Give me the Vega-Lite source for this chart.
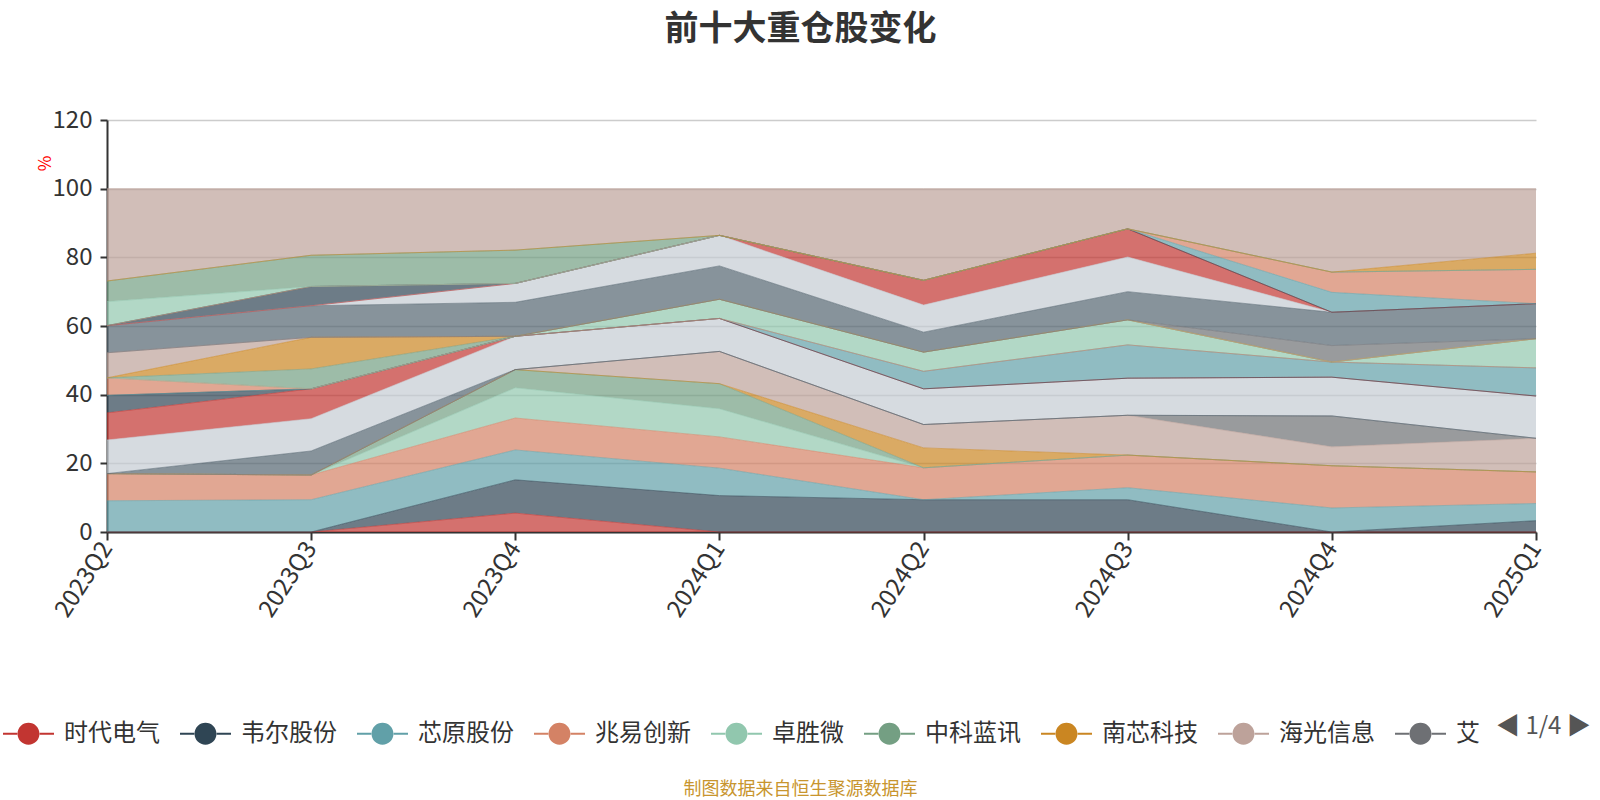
{
  "$schema": "https://vega.github.io/schema/vega-lite/v6.json",
  "autosize": {"type": "none"},
  "width": 1429,
  "height": 412,
  "padding": {"left": 107, "top": 120, "right": 64, "bottom": 268},
  "background": "#ffffff",
  "title": {"text": "前十大重仓股变化", "fontSize": 34, "fontWeight": "bold", "color": "#333333", "anchor": "middle", "dx": -21, "offset": 44, "baseline": "middle"},
  "data": {"values": [
    {"q":"2023Q2","s":"时代电气","i":0,"v":0},{"q":"2023Q3","s":"时代电气","i":0,"v":0},{"q":"2023Q4","s":"时代电气","i":0,"v":5.5},{"q":"2024Q1","s":"时代电气","i":0,"v":0},{"q":"2024Q2","s":"时代电气","i":0,"v":0},{"q":"2024Q3","s":"时代电气","i":0,"v":0},{"q":"2024Q4","s":"时代电气","i":0,"v":0},{"q":"2025Q1","s":"时代电气","i":0,"v":0},
    {"q":"2023Q2","s":"韦尔股份","i":1,"v":0},{"q":"2023Q3","s":"韦尔股份","i":1,"v":0},{"q":"2023Q4","s":"韦尔股份","i":1,"v":9.7},{"q":"2024Q1","s":"韦尔股份","i":1,"v":10.6},{"q":"2024Q2","s":"韦尔股份","i":1,"v":9.4},{"q":"2024Q3","s":"韦尔股份","i":1,"v":9.4},{"q":"2024Q4","s":"韦尔股份","i":1,"v":0},{"q":"2025Q1","s":"韦尔股份","i":1,"v":3.3},
    {"q":"2023Q2","s":"芯原股份","i":2,"v":9.1},{"q":"2023Q3","s":"芯原股份","i":2,"v":9.4},{"q":"2023Q4","s":"芯原股份","i":2,"v":8.7},{"q":"2024Q1","s":"芯原股份","i":2,"v":8.0},{"q":"2024Q2","s":"芯原股份","i":2,"v":0},{"q":"2024Q3","s":"芯原股份","i":2,"v":3.5},{"q":"2024Q4","s":"芯原股份","i":2,"v":7.0},{"q":"2025Q1","s":"芯原股份","i":2,"v":5.0},
    {"q":"2023Q2","s":"兆易创新","i":3,"v":7.9},{"q":"2023Q3","s":"兆易创新","i":3,"v":7.2},{"q":"2023Q4","s":"兆易创新","i":3,"v":9.3},{"q":"2024Q1","s":"兆易创新","i":3,"v":9.1},{"q":"2024Q2","s":"兆易创新","i":3,"v":9.3},{"q":"2024Q3","s":"兆易创新","i":3,"v":9.5},{"q":"2024Q4","s":"兆易创新","i":3,"v":12.3},{"q":"2025Q1","s":"兆易创新","i":3,"v":9.2},
    {"q":"2023Q2","s":"卓胜微","i":4,"v":0},{"q":"2023Q3","s":"卓胜微","i":4,"v":0},{"q":"2023Q4","s":"卓胜微","i":4,"v":8.8},{"q":"2024Q1","s":"卓胜微","i":4,"v":8.2},{"q":"2024Q2","s":"卓胜微","i":4,"v":0},{"q":"2024Q3","s":"卓胜微","i":4,"v":0},{"q":"2024Q4","s":"卓胜微","i":4,"v":0},{"q":"2025Q1","s":"卓胜微","i":4,"v":0},
    {"q":"2023Q2","s":"中科蓝讯","i":5,"v":0},{"q":"2023Q3","s":"中科蓝讯","i":5,"v":0},{"q":"2023Q4","s":"中科蓝讯","i":5,"v":5.3},{"q":"2024Q1","s":"中科蓝讯","i":5,"v":7.3},{"q":"2024Q2","s":"中科蓝讯","i":5,"v":0},{"q":"2024Q3","s":"中科蓝讯","i":5,"v":0},{"q":"2024Q4","s":"中科蓝讯","i":5,"v":0},{"q":"2025Q1","s":"中科蓝讯","i":5,"v":0},
    {"q":"2023Q2","s":"南芯科技","i":6,"v":0},{"q":"2023Q3","s":"南芯科技","i":6,"v":0},{"q":"2023Q4","s":"南芯科技","i":6,"v":0},{"q":"2024Q1","s":"南芯科技","i":6,"v":0},{"q":"2024Q2","s":"南芯科技","i":6,"v":5.8},{"q":"2024Q3","s":"南芯科技","i":6,"v":0},{"q":"2024Q4","s":"南芯科技","i":6,"v":0},{"q":"2025Q1","s":"南芯科技","i":6,"v":0},
    {"q":"2023Q2","s":"海光信息","i":7,"v":0},{"q":"2023Q3","s":"海光信息","i":7,"v":0},{"q":"2023Q4","s":"海光信息","i":7,"v":0},{"q":"2024Q1","s":"海光信息","i":7,"v":9.4},{"q":"2024Q2","s":"海光信息","i":7,"v":6.8},{"q":"2024Q3","s":"海光信息","i":7,"v":11.6},{"q":"2024Q4","s":"海光信息","i":7,"v":5.5},{"q":"2025Q1","s":"海光信息","i":7,"v":9.8},
    {"q":"2023Q2","s":"艾为电子","i":8,"v":0},{"q":"2023Q3","s":"艾为电子","i":8,"v":0},{"q":"2023Q4","s":"艾为电子","i":8,"v":0},{"q":"2024Q1","s":"艾为电子","i":8,"v":0},{"q":"2024Q2","s":"艾为电子","i":8,"v":0},{"q":"2024Q3","s":"艾为电子","i":8,"v":0},{"q":"2024Q4","s":"艾为电子","i":8,"v":9.0},{"q":"2025Q1","s":"艾为电子","i":8,"v":0},
    {"q":"2023Q2","s":"澜起科技","i":9,"v":0},{"q":"2023Q3","s":"澜起科技","i":9,"v":7.0},{"q":"2023Q4","s":"澜起科技","i":9,"v":0},{"q":"2024Q1","s":"澜起科技","i":9,"v":0},{"q":"2024Q2","s":"澜起科技","i":9,"v":0},{"q":"2024Q3","s":"澜起科技","i":9,"v":0},{"q":"2024Q4","s":"澜起科技","i":9,"v":0},{"q":"2025Q1","s":"澜起科技","i":9,"v":0},
    {"q":"2023Q2","s":"北方华创","i":10,"v":9.8},{"q":"2023Q3","s":"北方华创","i":10,"v":9.4},{"q":"2023Q4","s":"北方华创","i":10,"v":9.7},{"q":"2024Q1","s":"北方华创","i":10,"v":9.6},{"q":"2024Q2","s":"北方华创","i":10,"v":10.4},{"q":"2024Q3","s":"北方华创","i":10,"v":10.8},{"q":"2024Q4","s":"北方华创","i":10,"v":11.3},{"q":"2025Q1","s":"北方华创","i":10,"v":12.3},
    {"q":"2023Q2","s":"中芯国际","i":11,"v":7.9},{"q":"2023Q3","s":"中芯国际","i":11,"v":8.7},{"q":"2023Q4","s":"中芯国际","i":11,"v":0},{"q":"2024Q1","s":"中芯国际","i":11,"v":0},{"q":"2024Q2","s":"中芯国际","i":11,"v":0},{"q":"2024Q3","s":"中芯国际","i":11,"v":0},{"q":"2024Q4","s":"中芯国际","i":11,"v":0},{"q":"2025Q1","s":"中芯国际","i":11,"v":0},
    {"q":"2023Q2","s":"圣邦股份","i":12,"v":5.1},{"q":"2023Q3","s":"圣邦股份","i":12,"v":0},{"q":"2023Q4","s":"圣邦股份","i":12,"v":0},{"q":"2024Q1","s":"圣邦股份","i":12,"v":0},{"q":"2024Q2","s":"圣邦股份","i":12,"v":0},{"q":"2024Q3","s":"圣邦股份","i":12,"v":0},{"q":"2024Q4","s":"圣邦股份","i":12,"v":0},{"q":"2025Q1","s":"圣邦股份","i":12,"v":0},
    {"q":"2023Q2","s":"寒武纪","i":13,"v":0},{"q":"2023Q3","s":"寒武纪","i":13,"v":0},{"q":"2023Q4","s":"寒武纪","i":13,"v":0},{"q":"2024Q1","s":"寒武纪","i":13,"v":0},{"q":"2024Q2","s":"寒武纪","i":13,"v":5.1},{"q":"2024Q3","s":"寒武纪","i":13,"v":9.7},{"q":"2024Q4","s":"寒武纪","i":13,"v":4.4},{"q":"2025Q1","s":"寒武纪","i":13,"v":8.2},
    {"q":"2023Q2","s":"晶晨股份","i":14,"v":5.1},{"q":"2023Q3","s":"晶晨股份","i":14,"v":0},{"q":"2023Q4","s":"晶晨股份","i":14,"v":0},{"q":"2024Q1","s":"晶晨股份","i":14,"v":0},{"q":"2024Q2","s":"晶晨股份","i":14,"v":0},{"q":"2024Q3","s":"晶晨股份","i":14,"v":0},{"q":"2024Q4","s":"晶晨股份","i":14,"v":0},{"q":"2025Q1","s":"晶晨股份","i":14,"v":0},
    {"q":"2023Q2","s":"中微公司","i":15,"v":0},{"q":"2023Q3","s":"中微公司","i":15,"v":0},{"q":"2023Q4","s":"中微公司","i":15,"v":0},{"q":"2024Q1","s":"中微公司","i":15,"v":5.6},{"q":"2024Q2","s":"中微公司","i":15,"v":5.6},{"q":"2024Q3","s":"中微公司","i":15,"v":7.3},{"q":"2024Q4","s":"中微公司","i":15,"v":0},{"q":"2025Q1","s":"中微公司","i":15,"v":8.5},
    {"q":"2023Q2","s":"恒玄科技","i":16,"v":0},{"q":"2023Q3","s":"恒玄科技","i":16,"v":5.8},{"q":"2023Q4","s":"恒玄科技","i":16,"v":0},{"q":"2024Q1","s":"恒玄科技","i":16,"v":0},{"q":"2024Q2","s":"恒玄科技","i":16,"v":0},{"q":"2024Q3","s":"恒玄科技","i":16,"v":0},{"q":"2024Q4","s":"恒玄科技","i":16,"v":0},{"q":"2025Q1","s":"恒玄科技","i":16,"v":0},
    {"q":"2023Q2","s":"思瑞浦","i":17,"v":0},{"q":"2023Q3","s":"思瑞浦","i":17,"v":9.2},{"q":"2023Q4","s":"思瑞浦","i":17,"v":0},{"q":"2024Q1","s":"思瑞浦","i":17,"v":0},{"q":"2024Q2","s":"思瑞浦","i":17,"v":0},{"q":"2024Q3","s":"思瑞浦","i":17,"v":0},{"q":"2024Q4","s":"思瑞浦","i":17,"v":0},{"q":"2025Q1","s":"思瑞浦","i":17,"v":0},
    {"q":"2023Q2","s":"紫光国微","i":18,"v":7.3},{"q":"2023Q3","s":"紫光国微","i":18,"v":0},{"q":"2023Q4","s":"紫光国微","i":18,"v":0},{"q":"2024Q1","s":"紫光国微","i":18,"v":0},{"q":"2024Q2","s":"紫光国微","i":18,"v":0},{"q":"2024Q3","s":"紫光国微","i":18,"v":0},{"q":"2024Q4","s":"紫光国微","i":18,"v":0},{"q":"2025Q1","s":"紫光国微","i":18,"v":0},
    {"q":"2023Q2","s":"拓荆科技","i":19,"v":0},{"q":"2023Q3","s":"拓荆科技","i":19,"v":0},{"q":"2023Q4","s":"拓荆科技","i":19,"v":0},{"q":"2024Q1","s":"拓荆科技","i":19,"v":0},{"q":"2024Q2","s":"拓荆科技","i":19,"v":0},{"q":"2024Q3","s":"拓荆科技","i":19,"v":0},{"q":"2024Q4","s":"拓荆科技","i":19,"v":4.8},{"q":"2025Q1","s":"拓荆科技","i":19,"v":0},
    {"q":"2023Q2","s":"北京君正","i":20,"v":7.9},{"q":"2023Q3","s":"北京君正","i":20,"v":9.2},{"q":"2023Q4","s":"北京君正","i":20,"v":9.9},{"q":"2024Q1","s":"北京君正","i":20,"v":9.7},{"q":"2024Q2","s":"北京君正","i":20,"v":5.8},{"q":"2024Q3","s":"北京君正","i":20,"v":8.2},{"q":"2024Q4","s":"北京君正","i":20,"v":9.7},{"q":"2025Q1","s":"北京君正","i":20,"v":10.2},
    {"q":"2023Q2","s":"瑞芯微","i":21,"v":0},{"q":"2023Q3","s":"瑞芯微","i":21,"v":0},{"q":"2023Q4","s":"瑞芯微","i":21,"v":5.5},{"q":"2024Q1","s":"瑞芯微","i":21,"v":8.9},{"q":"2024Q2","s":"瑞芯微","i":21,"v":7.9},{"q":"2024Q3","s":"瑞芯微","i":21,"v":10.1},{"q":"2024Q4","s":"瑞芯微","i":21,"v":0},{"q":"2025Q1","s":"瑞芯微","i":21,"v":0},
    {"q":"2023Q2","s":"长电科技","i":22,"v":0},{"q":"2023Q3","s":"长电科技","i":22,"v":0},{"q":"2023Q4","s":"长电科技","i":22,"v":0},{"q":"2024Q1","s":"长电科技","i":22,"v":0},{"q":"2024Q2","s":"长电科技","i":22,"v":7.2},{"q":"2024Q3","s":"长电科技","i":22,"v":8.2},{"q":"2024Q4","s":"长电科技","i":22,"v":0},{"q":"2025Q1","s":"长电科技","i":22,"v":0},
    {"q":"2023Q2","s":"纳芯微","i":23,"v":0},{"q":"2023Q3","s":"纳芯微","i":23,"v":5.6},{"q":"2023Q4","s":"纳芯微","i":23,"v":0},{"q":"2024Q1","s":"纳芯微","i":23,"v":0},{"q":"2024Q2","s":"纳芯微","i":23,"v":0},{"q":"2024Q3","s":"纳芯微","i":23,"v":0},{"q":"2024Q4","s":"纳芯微","i":23,"v":0},{"q":"2025Q1","s":"纳芯微","i":23,"v":0},
    {"q":"2023Q2","s":"华海清科","i":24,"v":0},{"q":"2023Q3","s":"华海清科","i":24,"v":0},{"q":"2023Q4","s":"华海清科","i":24,"v":0},{"q":"2024Q1","s":"华海清科","i":24,"v":0},{"q":"2024Q2","s":"华海清科","i":24,"v":0},{"q":"2024Q3","s":"华海清科","i":24,"v":0},{"q":"2024Q4","s":"华海清科","i":24,"v":5.8},{"q":"2025Q1","s":"华海清科","i":24,"v":0},
    {"q":"2023Q2","s":"通富微电","i":25,"v":0},{"q":"2023Q3","s":"通富微电","i":25,"v":0},{"q":"2023Q4","s":"通富微电","i":25,"v":0},{"q":"2024Q1","s":"通富微电","i":25,"v":0},{"q":"2024Q2","s":"通富微电","i":25,"v":0},{"q":"2024Q3","s":"通富微电","i":25,"v":0},{"q":"2024Q4","s":"通富微电","i":25,"v":5.9},{"q":"2025Q1","s":"通富微电","i":25,"v":10.0},
    {"q":"2023Q2","s":"沪硅产业","i":26,"v":7.0},{"q":"2023Q3","s":"沪硅产业","i":26,"v":0},{"q":"2023Q4","s":"沪硅产业","i":26,"v":0},{"q":"2024Q1","s":"沪硅产业","i":26,"v":0},{"q":"2024Q2","s":"沪硅产业","i":26,"v":0},{"q":"2024Q3","s":"沪硅产业","i":26,"v":0},{"q":"2024Q4","s":"沪硅产业","i":26,"v":0},{"q":"2025Q1","s":"沪硅产业","i":26,"v":0},
    {"q":"2023Q2","s":"斯达半导","i":27,"v":6.0},{"q":"2023Q3","s":"斯达半导","i":27,"v":9.1},{"q":"2023Q4","s":"斯达半导","i":27,"v":9.7},{"q":"2024Q1","s":"斯达半导","i":27,"v":0},{"q":"2024Q2","s":"斯达半导","i":27,"v":0},{"q":"2024Q3","s":"斯达半导","i":27,"v":0},{"q":"2024Q4","s":"斯达半导","i":27,"v":0},{"q":"2025Q1","s":"斯达半导","i":27,"v":0},
    {"q":"2023Q2","s":"乐鑫科技","i":28,"v":0},{"q":"2023Q3","s":"乐鑫科技","i":28,"v":0},{"q":"2023Q4","s":"乐鑫科技","i":28,"v":0},{"q":"2024Q1","s":"乐鑫科技","i":28,"v":0},{"q":"2024Q2","s":"乐鑫科技","i":28,"v":0},{"q":"2024Q3","s":"乐鑫科技","i":28,"v":0},{"q":"2024Q4","s":"乐鑫科技","i":28,"v":0},{"q":"2025Q1","s":"乐鑫科技","i":28,"v":4.7},
    {"q":"2023Q2","s":"其他","i":29,"v":26.9},{"q":"2023Q3","s":"其他","i":29,"v":19.4},{"q":"2023Q4","s":"其他","i":29,"v":17.9},{"q":"2024Q1","s":"其他","i":29,"v":13.6},{"q":"2024Q2","s":"其他","i":29,"v":26.7},{"q":"2024Q3","s":"其他","i":29,"v":11.7},{"q":"2024Q4","s":"其他","i":29,"v":24.3},{"q":"2025Q1","s":"其他","i":29,"v":18.8}
  ]},
  "mark": {"type": "area", "opacity": 0.7, "line": {"strokeWidth": 1, "opacity": 0.55}},
  "encoding": {
    "x": {
      "field": "q", "type": "ordinal",
      "scale": {"type": "point", "padding": 0},
      "axis": {
        "title": "制图数据来自恒生聚源数据库",
        "titleColor": "#c8952e", "titleFontSize": 18, "titleFontWeight": "normal",
        "titleX": 693, "titleY": 257, "titleAlign": "center", "titleBaseline": "middle", "titleAnchor": null,
        "labelAngle": -57, "labelFontSize": 24, "labelColor": "#333333", "labelPadding": 4,
        "domainColor": "#333333", "domainWidth": 2, "tickColor": "#333333", "tickWidth": 2, "tickSize": 8,
        "grid": false
      }
    },
    "y": {
      "field": "v", "type": "quantitative", "stack": "zero",
      "scale": {"domain": [0, 120], "nice": false},
      "axis": {
        "values": [0, 20, 40, 60, 80, 100, 120],
        "title": "%", "titleColor": "#ff0000", "titleFontSize": 17, "titleFontWeight": "normal",
        "titleAngle": -90, "titleX": -62, "titleY": 43, "titleAlign": "center", "titleBaseline": "middle",
        "labelFontSize": 24, "labelColor": "#333333", "labelPadding": 8,
        "domainColor": "#333333", "domainWidth": 2, "tickColor": "#333333", "tickWidth": 2, "tickSize": 7,
        "gridColor": "#cccccc", "gridWidth": 1.5
      }
    },
    "order": {"field": "i", "type": "quantitative", "sort": "ascending"},
    "color": {
      "field": "s", "type": "nominal",
      "scale": {
        "domain": ["时代电气","韦尔股份","芯原股份","兆易创新","卓胜微","中科蓝讯","南芯科技","海光信息","艾为电子","澜起科技","北方华创","中芯国际","圣邦股份","寒武纪","晶晨股份","中微公司","恒玄科技","思瑞浦","紫光国微","拓荆科技","北京君正","瑞芯微","长电科技","纳芯微","华海清科","通富微电","沪硅产业","斯达半导","乐鑫科技","其他"],
        "range": ["#c23531","#2f4554","#61a0a8","#d48265","#91c7ae","#749f83","#ca8622","#bda29a","#6e7074","#546570","#c4ccd3","#c23531","#2f4554","#61a0a8","#d48265","#91c7ae","#749f83","#ca8622","#bda29a","#6e7074","#546570","#c4ccd3","#c23531","#2f4554","#61a0a8","#d48265","#91c7ae","#749f83","#ca8622","#bda29a"]
      },
      "legend": {
        "orient": "none", "legendX": -104, "legendY": 588,
        "direction": "horizontal", "columns": 9,
        "values": ["时代电气","韦尔股份","芯原股份","兆易创新","卓胜微","中科蓝讯","南芯科技","海光信息","艾为电子"],
        "labelExpr": "datum.label == '艾为电子' ? '艾' : datum.label",
        "symbolType": "M-1,-0.04H-0.44V0.04H-1Z M0.44,-0.04H1V0.04H0.44Z M0.43,0A0.43,0.43,0,1,1,-0.43,0A0.43,0.43,0,1,1,0.43,0Z",
        "symbolSize": 2601, "symbolOpacity": 1, "symbolStrokeWidth": 0,
        "labelFontSize": 24, "labelColor": "#333333", "labelOffset": 10, "labelLimit": 300,
        "columnPadding": 20,
        "title": "◀ 1/4 ▶", "titleOrient": "right", "titleFontSize": 24, "titleFontWeight": "normal",
        "titleColor": "#555555", "titlePadding": 16, "titleAnchor": "middle", "titleBaseline": "middle"
      }
    }
  },
  "config": {
    "font": "Noto Sans CJK SC",
    "view": {"stroke": null}
  }
}
